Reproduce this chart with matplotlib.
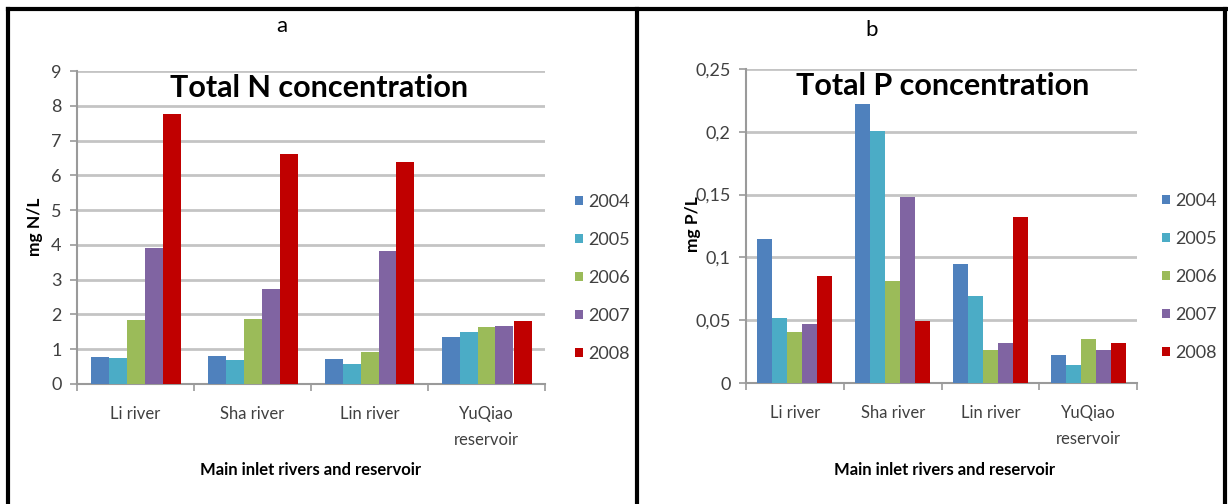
import matplotlib
matplotlib.use("Agg")
import matplotlib.pyplot as plt
import numpy as np
from matplotlib.lines import Line2D

categories = ["Li river", "Sha river", "Lin river", "YuQiao\nreservoir"]
years = ["2004", "2005", "2006", "2007", "2008"]
colors = ["#4F81BD", "#4BACC6", "#9BBB59", "#8064A2", "#C00000"]

total_n = {
    "2004": [0.79, 0.81, 0.71, 1.36],
    "2005": [0.76, 0.70, 0.58, 1.49],
    "2006": [1.83, 1.88, 0.91, 1.63],
    "2007": [3.91, 2.73, 3.82, 1.66],
    "2008": [7.77, 6.60, 6.37, 1.81],
}
total_p = {
    "2004": [0.115, 0.222, 0.095, 0.022],
    "2005": [0.052, 0.201, 0.069, 0.014],
    "2006": [0.041, 0.081, 0.026, 0.035],
    "2007": [0.047, 0.148, 0.032, 0.026],
    "2008": [0.085, 0.049, 0.132, 0.032],
}
n_ticks = [0, 1, 2, 3, 4, 5, 6, 7, 8, 9]
n_ticklabels = ["0", "1", "2", "3", "4", "5", "6", "7", "8", "9"]
p_ticks = [0, 0.05, 0.10, 0.15, 0.20, 0.25]
p_ticklabels = ["0", "0,05", "0,1", "0,15", "0,2", "0,25"]

plt.rcParams["font.family"] = ["Lato", "DejaVu Sans"]

W, H = 1228, 504
fig = plt.figure(figsize=(W / 100, H / 100), dpi=100)


def fx(px):
    return px / W


def fy(py):
    return 1 - py / H


def draw_panel(rect, data, ticks, ticklabels, ymax, title, ylabel,
               letter, letter_xy, title_xy, ylabel_xy, xlabel_xy, leg_xy):
    l, t, r, b = rect
    ax = fig.add_axes([fx(l), fy(b), fx(r - l), (b - t) / H])
    x = np.arange(len(categories))
    nb = len(years)
    bw = 1.0 / (nb + 1.5)
    handles = []
    for i, yr in enumerate(years):
        off = (i - (nb - 1) / 2) * bw
        bars = ax.bar(x + off, data[yr], width=bw, color=colors[i],
                      label=yr, zorder=3, linewidth=0)
        handles.append(bars)
    ax.set_xlim(-0.5, len(categories) - 0.5)
    ax.set_ylim(0, ymax)
    ax.set_yticks(ticks)
    ax.set_yticklabels(ticklabels)
    ax.set_xticks(x)
    ax.set_xticklabels(categories, linespacing=1.75)
    ax.set_xticks(np.arange(len(categories) + 1) - 0.5, minor=True)
    ax.tick_params(axis="x", which="major", length=0, pad=16,
                   labelsize=12, labelcolor="#404040")
    ax.tick_params(axis="x", which="minor", length=5, width=1.2,
                   color="#9a9a9a")
    ax.tick_params(axis="y", length=5, width=1.2, color="#9a9a9a",
                   labelsize=13, labelcolor="#404040", pad=6)
    ax.grid(axis="y", color="#c4c4c4", linewidth=2, zorder=0)
    for s in ["top", "right"]:
        ax.spines[s].set_visible(False)
    for s in ["left", "bottom"]:
        ax.spines[s].set_color("#9a9a9a")
        ax.spines[s].set_linewidth(1.5)
    ax.set_facecolor("none")
    fig.text(fx(title_xy[0]), fy(title_xy[1]), title, ha="center",
             va="center", fontsize=22, fontweight="bold", color="black")
    fig.text(fx(letter_xy[0]), fy(letter_xy[1]), letter, ha="center",
             va="center", fontsize=16, color="black")
    fig.text(fx(ylabel_xy[0]), fy(ylabel_xy[1]), ylabel, ha="center",
             va="center", rotation=90, fontsize=12.5, fontweight="bold",
             color="black")
    fig.text(fx(xlabel_xy[0]), fy(xlabel_xy[1]),
             "Main inlet rivers and reservoir", ha="center", va="center",
             fontsize=12, fontweight="bold", color="black")
    fig.legend(handles=handles, labels=years, loc="center left",
               bbox_to_anchor=(fx(leg_xy[0]), fy(leg_xy[1])),
               frameon=False, fontsize=13, handlelength=0.45,
               handleheight=0.45, handletextpad=0.3, labelspacing=1.22,
               borderpad=0, borderaxespad=0, labelcolor="#404040")
    return ax


draw_panel((77, 71, 545, 384), total_n, n_ticks, n_ticklabels, 9,
           "Total N concentration", "mg N/L", "a", (282, 26), (319, 88),
           (35, 227), (311, 470), (575, 278))
draw_panel((746, 69, 1137, 383), total_p, p_ticks, p_ticklabels, 0.25,
           "Total P concentration", "mg P/L", "b", (872, 30), (943, 86),
           (693, 224), (945, 470), (1162, 277))

# panel frames
frame_kw = dict(color="black", linewidth=3, transform=fig.transFigure)
fig.add_artist(Line2D([fx(8), fx(1226)], [fy(9), fy(9)], **frame_kw))
fig.add_artist(Line2D([fx(8), fx(8)], [fy(9), fy(504)], **frame_kw))
fig.add_artist(Line2D([fx(637), fx(637)], [fy(9), fy(504)], **frame_kw))
fig.add_artist(Line2D([fx(1225), fx(1225)], [fy(9), fy(504)], **frame_kw))

fig.savefig("out.png", dpi=100)
